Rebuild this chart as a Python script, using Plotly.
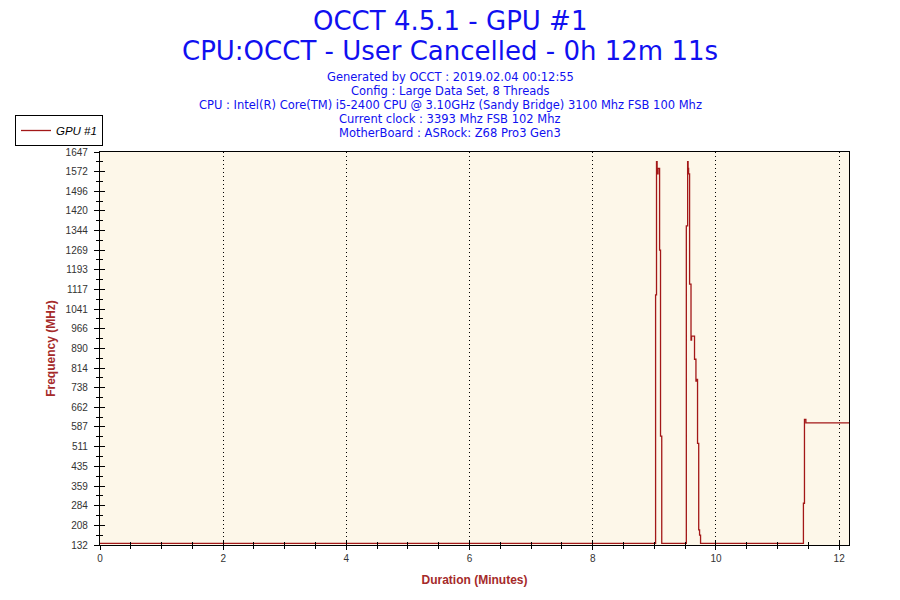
import plotly.graph_objects as go

# ---- data (minutes, MHz) ----
time_min = [0.0, 9.02, 9.035, 9.045, 9.06, 9.085, 9.10, 9.12,
            9.519, 9.540, 9.548, 9.556, 9.572, 9.595, 9.604, 9.652,
            9.675, 9.685, 9.701, 9.720, 9.734, 9.750,
            11.42, 11.437, 11.46, 12.18]
freq_mhz = [138, 1096, 1610, 1563, 1584, 1269, 552, 138,
            1362, 1610, 1584, 1563, 1138, 922, 937, 848,
            764, 770, 524, 190, 170, 138,
            293, 616, 603, 603]

y_ticks = [132, 208, 284, 359, 435, 511, 587, 662, 738, 814, 890,
           966, 1041, 1117, 1193, 1269, 1344, 1420, 1496, 1572, 1647]
x_ticks = [0, 2, 4, 6, 8, 10, 12]

title_lines = ["OCCT 4.5.1 - GPU #1", "CPU:OCCT - User Cancelled - 0h 12m 11s"]
info_lines = ["Generated by OCCT : 2019.02.04 00:12:55",
              "Config : Large Data Set, 8 Threads",
              "CPU : Intel(R) Core(TM) i5-2400 CPU @ 3.10GHz (Sandy Bridge) 3100 Mhz FSB 100 Mhz",
              "Current clock : 3393 Mhz FSB 102 Mhz",
              "MotherBoard : ASRock: Z68 Pro3 Gen3"]

x_range = [0, 12.16]
y_range = [132, 1647]
y_minor = [(a + b) / 2 for a, b in zip(y_ticks[:-1], y_ticks[1:])]

line_color = "#a31818"
axis_title_color = "#a52a2a"
blue = "#1010f0"

W, H = 900, 600
PLOT_L, PLOT_R, PLOT_T, PLOT_B = 100, 849, 152, 545

fig = go.Figure()
fig.add_trace(go.Scatter(x=time_min, y=freq_mhz, mode="lines", name="<i>GPU #1</i>",
                         line=dict(color=line_color, width=1.3, shape="hv")))

tickfont = dict(family="Liberation Sans, Arial", size=10, color="#333333")
pw = PLOT_R - PLOT_L
ph = PLOT_B - PLOT_T

fig.update_layout(
    width=W, height=H,
    margin=dict(l=PLOT_L, r=W - PLOT_R, t=PLOT_T, b=H - PLOT_B, autoexpand=False),
    paper_bgcolor="white", plot_bgcolor="#fdf7e9",
    showlegend=True,
    legend=dict(x=(15 - PLOT_L) / pw, y=(PLOT_B - 115) / ph,
                xanchor="left", yanchor="top",
                bgcolor="white", bordercolor="black", borderwidth=1,
                font=dict(family="Liberation Sans, Arial", size=11.5, color="black"),
                itemwidth=30, tracegroupgap=0),
    xaxis=dict(range=x_range, tickvals=x_ticks, ticks="outside", ticklen=4,
               tickcolor="black", showline=True, linecolor="black", linewidth=1.3,
               mirror=True, showgrid=True, gridcolor="black", griddash="1px,3px",
               gridwidth=1, zeroline=False, tickfont=tickfont,
               minor=dict(dtick=0.5, ticks="outside", ticklen=3, tickcolor="black",
                          showgrid=False),
               title=dict(text="<b>Duration (Minutes)</b>", standoff=12,
                          font=dict(family="Liberation Sans, Arial", size=12,
                                    color=axis_title_color))),
    yaxis=dict(range=y_range, tickvals=y_ticks, ticks="outside", ticklen=5,
               tickcolor="black", showline=True, linecolor="black", linewidth=1.3,
               mirror=True, showgrid=False, zeroline=False, tickfont=tickfont,
               ticklabelstandoff=4,
               minor=dict(tickvals=y_minor, ticks="outside", ticklen=3,
                          tickcolor="black", showgrid=False),
               title=dict(text="<b>Frequency (MHz)</b>", standoff=7,
                          font=dict(family="Liberation Sans, Arial", size=12,
                                    color=axis_title_color))),
    xaxis2=dict(overlaying="x", range=x_range, tickvals=x_ticks, ticks="inside",
                ticklen=4, tickcolor="black", showticklabels=False, showgrid=False,
                zeroline=False, showline=False, side="bottom", anchor="y",
                minor=dict(dtick=0.5, ticks="inside", ticklen=3, tickcolor="black")),
    yaxis2=dict(overlaying="y", range=y_range, tickvals=y_ticks, ticks="inside",
                ticklen=5, tickcolor="black", showticklabels=False, showgrid=False,
                zeroline=False, showline=False, side="left", anchor="x",
                minor=dict(tickvals=y_minor, ticks="inside", ticklen=3,
                           tickcolor="black")),
)

# invisible trace so overlay axes render
fig.add_trace(go.Scatter(x=[x_range[0]], y=[y_range[0]], xaxis="x2", yaxis="y2",
                         mode="markers", marker=dict(opacity=0), showlegend=False,
                         hoverinfo="skip"))

annotations = []
for i, t in enumerate(title_lines):
    annotations.append(dict(text=t, y=20.5 + 30.5 * i,
                            font=dict(family="DejaVu Sans", size=26, color=blue)))
for i, t in enumerate(info_lines):
    annotations.append(dict(text=t, y=77 + 14 * i,
                            font=dict(family="DejaVu Sans", size=11.5, color=blue)))
# convert page pixel positions to paper coords
for a in annotations:
    py = a["y"]
    a.update(xref="paper", yref="paper", showarrow=False,
             y=(PLOT_B - py) / ph, yanchor="middle",
             x=(450 - PLOT_L) / pw, xanchor="center")
fig.update_layout(annotations=annotations)

# remove the default 8px page margin so the 900x600 figure fills the window
fig.write_html("out.html", config={"displayModeBar": False},
               post_script="document.body.style.margin='0';")
